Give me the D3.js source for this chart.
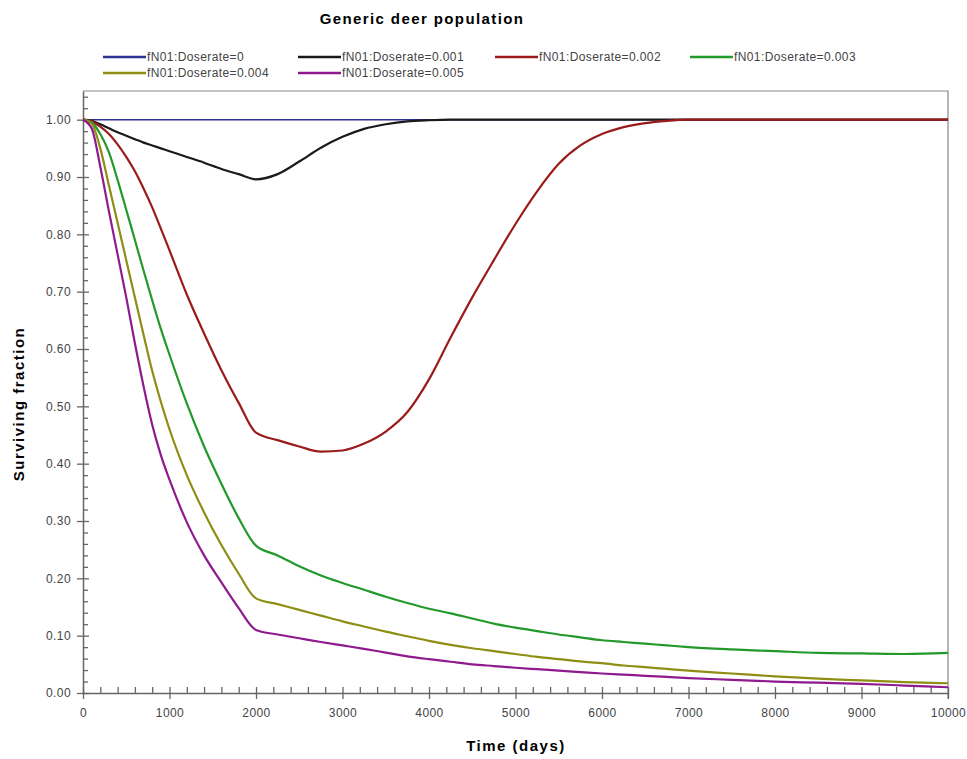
<!DOCTYPE html>
<html>
<head>
<meta charset="utf-8">
<script src="https://cdn.jsdelivr.net/npm/d3@7"></script>
<style>
  body { margin: 0; background: #fff; }
  text { font-family: "Liberation Sans", Arial, sans-serif; }
</style>
</head>
<body>
<svg width="967" height="759"></svg>
<script>
var svg = d3.select("svg"),
    width = +svg.attr("width"),
    height = +svg.attr("height");

var margin = {left: 83, right: 19, top: 91, bottom: 66};

// time grid (days) shared by all series
var days = [0, 100, 200, 300, 400, 500, 600, 700, 800, 900, 1000,
            1200, 1400, 1600, 1800, 2000,
            2250, 2500, 2750, 3000, 3250, 3500, 3750, 4000, 4250, 4500, 4750, 5000,
            5250, 5500, 5750, 6000, 6250, 6500, 6750, 7000,
            7500, 8000, 8500, 9000, 9500, 10000];

var seriesNames = ["fN01:Doserate=0", "fN01:Doserate=0.001", "fN01:Doserate=0.002",
                   "fN01:Doserate=0.003", "fN01:Doserate=0.004", "fN01:Doserate=0.005"];
var seriesColors = ["#2e3192", "#1a1a1a", "#9b1b1b", "#22992a", "#8e8e14", "#8e1a8e"];

var dose0    = [1, 1, 1, 1, 1, 1, 1, 1, 1, 1, 1,
                1, 1, 1, 1, 1,
                1, 1, 1, 1, 1, 1, 1, 1, 1, 1, 1, 1,
                1, 1, 1, 1, 1, 1, 1, 1,
                1, 1, 1, 1, 1, 1];
var dose0001 = [1, 0.998, 0.992, 0.985, 0.978, 0.972, 0.966, 0.960, 0.955, 0.950, 0.945,
                0.935, 0.925, 0.914, 0.905, 0.896,
                0.905, 0.927, 0.951, 0.970, 0.984, 0.992, 0.997, 0.999, 1, 1, 1, 1,
                1, 1, 1, 1, 1, 1, 1, 1,
                1, 1, 1, 1, 1, 1];
var dose0002 = [1, 0.997, 0.988, 0.975, 0.957, 0.935, 0.910, 0.880, 0.847, 0.810, 0.772,
                0.695, 0.627, 0.563, 0.506, 0.454,
                0.441, 0.430, 0.421, 0.423, 0.435, 0.456, 0.490, 0.547, 0.620, 0.690, 0.755, 0.818,
                0.875, 0.923, 0.955, 0.975, 0.987, 0.994, 0.998, 1,
                1, 1, 1, 1, 1, 1];
var dose0003 = [1, 0.995, 0.975, 0.943, 0.895, 0.843, 0.790, 0.737, 0.685, 0.635, 0.590,
                0.505, 0.430, 0.365, 0.305, 0.257,
                0.240, 0.221, 0.205, 0.192, 0.180, 0.168, 0.157, 0.147, 0.139, 0.130, 0.121, 0.114,
                0.108, 0.102, 0.097, 0.092, 0.089, 0.086, 0.083, 0.080,
                0.076, 0.073, 0.070, 0.069, 0.068, 0.070];
var dose0004 = [1, 0.993, 0.950, 0.885, 0.820, 0.755, 0.690, 0.625, 0.562, 0.508, 0.460,
                0.380, 0.315, 0.258, 0.208, 0.165,
                0.155, 0.145, 0.135, 0.125, 0.116, 0.107, 0.099, 0.091, 0.084, 0.078, 0.073, 0.068,
                0.063, 0.059, 0.055, 0.052, 0.048, 0.045, 0.042, 0.039,
                0.034, 0.029, 0.025, 0.022, 0.019, 0.017];
var dose0005 = [1, 0.985, 0.918, 0.840, 0.765, 0.690, 0.610, 0.535, 0.468, 0.415, 0.372,
                0.298, 0.240, 0.193, 0.148, 0.110,
                0.102, 0.0955, 0.089, 0.083, 0.077, 0.0705, 0.064, 0.059, 0.0545, 0.050, 0.047, 0.044,
                0.0415, 0.039, 0.0365, 0.034, 0.032, 0.030, 0.028, 0.026,
                0.023, 0.020, 0.018, 0.016, 0.013, 0.010];

var allSeries = [dose0, dose0001, dose0002, dose0003, dose0004, dose0005];

var xMajor = d3.range(0, 10001, 1000);
var xMinor = d3.range(0, 10001, 200).filter(function(d) { return d % 1000 !== 0; });
var yMajor = d3.range(0, 11).map(function(i) { return i / 10; });
var yMinor = d3.range(0, 53).map(function(i) { return i / 50; }).filter(function(d) { return Math.round(d * 50) % 5 !== 0; });

var x = d3.scaleLinear().domain([0, 10000]).range([margin.left, width - margin.right]);
var y = d3.scaleLinear().domain([0, 1.05]).range([height - margin.bottom, margin.top]);

// plot frame (top and right)
svg.append("path")
    .attr("d", "M" + x(0) + "," + y(1.05) + "H" + x(10000) + "V" + (y(0) + 6))
    .attr("fill", "none")
    .attr("stroke", "#888")
    .attr("stroke-width", 1.2);

// y axis
var yAxis = svg.append("g")
    .attr("transform", "translate(" + x(0) + ",0)")
    .call(d3.axisLeft(y).tickValues(yMajor).tickFormat(d3.format(".2f")).tickSizeInner(6).tickSizeOuter(0).tickPadding(6));
yAxis.selectAll(".tick line").attr("x1", 6);
svg.append("g")
    .attr("transform", "translate(" + x(0) + ",0)")
    .call(d3.axisLeft(y).tickValues(yMinor).tickFormat("").tickSize(-5))
    .select(".domain").remove();

// x axis
var xAxis = svg.append("g")
    .attr("transform", "translate(0," + y(0) + ")")
    .call(d3.axisBottom(x).tickValues(xMajor).tickFormat(d3.format("d")).tickSizeInner(6).tickSizeOuter(0).tickPadding(9));
xAxis.selectAll(".tick line").attr("y1", -6);
svg.append("g")
    .attr("transform", "translate(0," + y(0) + ")")
    .call(d3.axisBottom(x).tickValues(xMinor).tickFormat("").tickSize(-6))
    .select(".domain").remove();

svg.selectAll(".domain").attr("stroke", "#666").attr("stroke-width", 1.5);
svg.selectAll(".tick line").attr("stroke", "#666").attr("stroke-width", 1.3);
svg.selectAll(".tick text").style("font-size", "12px").style("letter-spacing", "0.4px").attr("fill", "#444");

// lines
var line = d3.line()
    .x(function(d, i) { return x(days[i]); })
    .y(function(d) { return y(d); })
    .curve(d3.curveMonotoneX);

svg.append("g")
  .selectAll("path")
  .data(allSeries)
  .enter().append("path")
    .attr("d", line)
    .attr("fill", "none")
    .attr("stroke", function(d, i) { return seriesColors[i]; })
    .attr("stroke-width", function(d, i) { return i === 0 ? 1.5 : 2.2; });

// title
svg.append("text")
    .attr("x", 422)
    .attr("y", 24)
    .attr("text-anchor", "middle")
    .style("font-size", "15px")
    .style("font-weight", "bold")
    .style("letter-spacing", "1.4px")
    .text("Generic deer population");

// legend
var legendX = [103, 298, 495, 690],
    legendY = [57, 73];

var legend = svg.append("g")
  .selectAll("g")
  .data(seriesNames)
  .enter().append("g")
    .attr("transform", function(d, i) {
      return "translate(" + legendX[i % 4] + "," + legendY[Math.floor(i / 4)] + ")";
    });

legend.append("line")
    .attr("x1", 0).attr("x2", 43)
    .attr("stroke", function(d, i) { return seriesColors[i]; })
    .attr("stroke-width", 2.5);

legend.append("text")
    .attr("x", 44)
    .attr("dy", "0.35em")
    .style("font-size", "12px")
    .style("letter-spacing", "0.4px")
    .attr("fill", "#444")
    .text(function(d) { return d; });

// axis titles
svg.append("text")
    .attr("x", 516)
    .attr("y", 751)
    .attr("text-anchor", "middle")
    .style("font-size", "15px")
    .style("font-weight", "bold")
    .style("letter-spacing", "1.5px")
    .text("Time (days)");

svg.append("text")
    .attr("transform", "translate(24,404) rotate(-90)")
    .attr("text-anchor", "middle")
    .style("font-size", "15px")
    .style("font-weight", "bold")
    .style("letter-spacing", "1.5px")
    .text("Surviving fraction");
</script>
</body>
</html>
